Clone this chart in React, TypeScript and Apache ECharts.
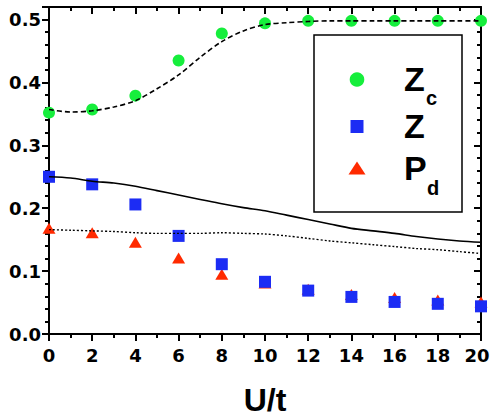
import React, { useEffect, useRef } from "react";
import * as echarts from "echarts";

const uPoints = [0, 2, 4, 6, 8, 10, 12, 14, 16, 18, 20];
const zcValues = [0.352, 0.357, 0.379, 0.435, 0.478, 0.494, 0.498, 0.498, 0.498, 0.498, 0.498];
const zValues = [0.250, 0.238, 0.206, 0.156, 0.111, 0.083, 0.069, 0.059, 0.051, 0.048, 0.044];
const pdValues = [0.168, 0.161, 0.146, 0.121, 0.095, 0.081, 0.071, 0.063, 0.058, 0.054, 0.051];

const fitU = [0, 1, 2, 3, 4, 5, 6, 7, 8, 9, 10, 11, 12, 13, 14, 15, 16, 17, 18, 19, 20];
const zcFit = [0.357, 0.353, 0.355, 0.361, 0.371, 0.390, 0.412, 0.440, 0.465, 0.482, 0.492, 0.495, 0.497, 0.498, 0.498, 0.498, 0.498, 0.498, 0.498, 0.498, 0.498];
const zFit = [0.250, 0.248, 0.243, 0.240, 0.235, 0.228, 0.221, 0.214, 0.207, 0.201, 0.196, 0.189, 0.182, 0.175, 0.168, 0.164, 0.160, 0.155, 0.151, 0.148, 0.146];
const pdFit = [0.166, 0.165, 0.164, 0.163, 0.161, 0.160, 0.160, 0.160, 0.161, 0.160, 0.159, 0.156, 0.152, 0.148, 0.145, 0.142, 0.139, 0.136, 0.134, 0.131, 0.128];

const GREEN = "#16ee3c";
const BLUE = "#1c2cf4";
const RED = "#ff2a00";
const FONT = "'Liberation Sans', Arial, Helvetica, sans-serif";
const TICK_FONT = "'DejaVu Sans', 'Liberation Sans', sans-serif";

const pair = (xs: number[], ys: number[]) => xs.map((x, i) => [x, ys[i]]);

export default function App() {
  const ref = useRef<HTMLDivElement>(null);
  useEffect(() => {
    document.body.style.margin = "0";
    const chart = echarts.init(ref.current!, null, { renderer: "svg" });
    const tickStyle = { width: 2, color: "#000" };
    const tickText = { fontFamily: TICK_FONT, fontWeight: "bold", fontSize: 18, color: "#000" };
    const mkX = (pos: string, inside: boolean, label: boolean) => ({
      type: "value",
      position: pos,
      min: 0,
      max: 20,
      interval: 2,
      splitLine: { show: false },
      axisLine: { show: true, onZero: false, lineStyle: { color: "#000", width: 2 } },
      axisTick: { show: true, inside, length: 7, lineStyle: tickStyle },
      minorTick: { show: true, splitNumber: 2, length: 4, lineStyle: tickStyle },
      axisLabel: label
        ? {
            show: true,
            ...tickText,
            margin: 12,
            formatter: (v: number) => (v === 20 ? `{e|${v}}` : `${v}`),
            rich: { e: { ...tickText, padding: [0, 8, 0, 0] } },
          }
        : { show: false },
    });
    const mkY = (pos: string, inside: boolean, label: boolean) => ({
      type: "value",
      position: pos,
      min: 0,
      max: 0.52,
      interval: 0.1,
      splitLine: { show: false },
      axisLine: { show: true, onZero: false, lineStyle: { color: "#000", width: 2 } },
      axisTick: { show: true, inside, length: 7, lineStyle: tickStyle },
      minorTick: { show: true, splitNumber: 5, length: 4, lineStyle: tickStyle },
      axisLabel: label
        ? {
            show: true,
            ...tickText,
            margin: 8,
            showMaxLabel: false,
            formatter: (v: number) => v.toFixed(1),
          }
        : { show: false },
    });
    chart.setOption({
      animation: false,
      grid: { left: 49, top: 7, right: 9, bottom: 83, containLabel: false, outerBoundsMode: "none" },
      xAxis: [
        {
          ...mkX("bottom", false, true),
          name: "U/t",
          nameLocation: "middle",
          nameGap: 50,
          nameTextStyle: { fontFamily: FONT, fontWeight: "bold", fontSize: 32, color: "#000" },
        },
        mkX("top", true, false),
      ],
      yAxis: [mkY("left", false, true), mkY("right", true, false)],
      series: [
        {
          name: "Pd",
          type: "scatter",
          data: pair(uPoints, pdValues),
          symbol: "triangle",
          symbolSize: [13, 11],
          itemStyle: { color: RED, opacity: 1 },
        },
        {
          name: "Z",
          type: "scatter",
          data: pair(uPoints, zValues),
          symbol: "rect",
          symbolSize: 12,
          itemStyle: { color: BLUE, opacity: 1 },
        },
        {
          name: "Zc",
          type: "scatter",
          data: pair(uPoints, zcValues),
          symbol: "circle",
          symbolSize: 12,
          itemStyle: { color: GREEN, opacity: 1 },
        },
        {
          name: "Zc fit",
          type: "line",
          data: pair(fitU, zcFit),
          smooth: 0.3,
          showSymbol: false,
          lineStyle: { color: "#000", width: 1.6, type: [5, 3] },
        },
        {
          name: "Z fit",
          type: "line",
          data: pair(fitU, zFit),
          smooth: 0.3,
          showSymbol: false,
          lineStyle: { color: "#000", width: 1.6 },
        },
        {
          name: "Pd fit",
          type: "line",
          data: pair(fitU, pdFit),
          smooth: 0.3,
          showSymbol: false,
          lineStyle: { color: "#000", width: 1.4, type: [2, 2] },
        },
      ],
      graphic: [
        {
          type: "rect",
          shape: { x: 314, y: 35, width: 148, height: 177 },
          style: { fill: "#fff", stroke: "#000", lineWidth: 1.5 },
          z: 10,
        },
        { type: "circle", shape: { cx: 357, cy: 79.5, r: 7.3 }, style: { fill: GREEN }, z: 11 },
        { type: "rect", shape: { x: 350.5, y: 120, width: 13, height: 13 }, style: { fill: BLUE }, z: 11 },
        {
          type: "polygon",
          shape: { points: [[357, 161.5], [348.5, 174.5], [365.5, 174.5]] },
          style: { fill: RED },
          z: 11,
        },
        { type: "text", x: 404, y: 79, style: { text: "Z", font: `bold 34px ${FONT}`, fill: "#000", verticalAlign: "middle" }, z: 11 },
        { type: "text", x: 426, y: 98, style: { text: "c", font: `bold 20px ${FONT}`, fill: "#000", verticalAlign: "middle" }, z: 11 },
        { type: "text", x: 404, y: 126, style: { text: "Z", font: `bold 34px ${FONT}`, fill: "#000", verticalAlign: "middle" }, z: 11 },
        { type: "text", x: 404, y: 168, style: { text: "P", font: `bold 34px ${FONT}`, fill: "#000", verticalAlign: "middle" }, z: 11 },
        { type: "text", x: 427, y: 188, style: { text: "d", font: `bold 20px ${FONT}`, fill: "#000", verticalAlign: "middle" }, z: 11 },
      ],
    });
    return () => chart.dispose();
  }, []);
  return <div ref={ref} style={{ width: 490, height: 417 }} />;
}
